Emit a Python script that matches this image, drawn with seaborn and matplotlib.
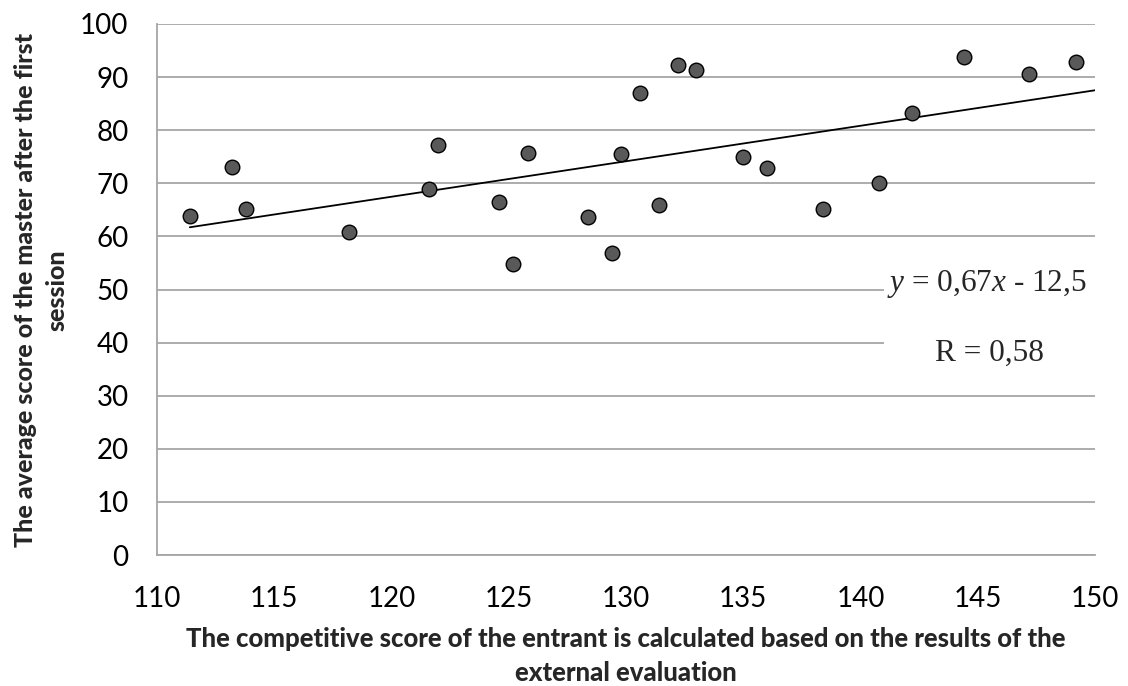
import numpy as np
import pandas as pd
import seaborn as sns
import matplotlib.pyplot as plt
from matplotlib.patches import Rectangle

# Data
competitive_score = [111.4, 113.2, 113.8, 118.2, 121.6, 122.0, 124.6, 125.2, 125.8,
                     128.4, 129.4, 129.8, 130.6, 131.4, 132.2, 133.0, 135.0, 136.0,
                     138.4, 140.8, 142.2, 144.4, 147.2, 149.2]
average_score = [63.8, 73.1, 65.2, 60.9, 68.9, 77.2, 66.5, 54.8, 75.7,
                 63.6, 56.9, 75.5, 87.0, 65.9, 92.2, 91.4, 75.0, 72.9,
                 65.2, 70.0, 83.3, 93.8, 90.6, 92.8]
x_ticks = [110, 115, 120, 125, 130, 135, 140, 145, 150]
y_ticks = [0, 10, 20, 30, 40, 50, 60, 70, 80, 90, 100]
equation_text = "$y$ = 0,67$x$ - 12,5"
r_text = "R = 0,58"
x_label = "The competitive score of the entrant is calculated based on the results of the\nexternal evaluation"
y_label = "The average score of the master after the first\nsession"

df = pd.DataFrame({"x": competitive_score, "y": average_score})

sns.set_style("white")
plt.rcParams["font.family"] = ["Lato", "DejaVu Sans"]
plt.rcParams["mathtext.fontset"] = "custom"
plt.rcParams["mathtext.rm"] = "Liberation Serif"
plt.rcParams["mathtext.it"] = "Liberation Serif:italic"

grid_c = "#A6A6A6"
fig = plt.figure(figsize=(11.28, 6.86), dpi=100)
ax = fig.add_axes([157 / 1128, 1 - 555 / 686, (1095 - 157) / 1128, (555 - 24) / 686])

ax.set_xlim(110, 150)
ax.set_ylim(0, 100)
ax.set_xticks(x_ticks)
ax.set_yticks(y_ticks)
ax.set_axisbelow(True)
ax.yaxis.grid(True, color=grid_c, linewidth=1.3)
ax.xaxis.grid(False)

# trend line (least squares) from min x to right edge
coef = np.polyfit(df["x"], df["y"], 1)
xl = np.array([df["x"].min(), 150])
sns.lineplot(x=xl, y=np.polyval(coef, xl), ax=ax, color="black", linewidth=1.3, zorder=2)

sns.scatterplot(data=df, x="x", y="y", ax=ax, s=110, color="#595959",
                edgecolor="black", linewidth=1.0, zorder=3)

# white box behind equation text
ax.add_patch(Rectangle((141.0, 34.5), 10, 22.5, facecolor="white", edgecolor="none", zorder=1))
ax.text(145.4, 51.1, equation_text, fontsize=22.5, family="Liberation Serif",
        ha="center", va="center", zorder=4)
ax.text(145.5, 38.0, r_text, fontsize=22.5, family="Liberation Serif",
        ha="center", va="center", zorder=4)

for s in ["top", "right"]:
    ax.spines[s].set_visible(False)
for s in ["left", "bottom"]:
    ax.spines[s].set_color(grid_c)
    ax.spines[s].set_linewidth(1.3)

ax.tick_params(axis="both", which="both", direction="out", length=7.5, width=1.3,
               color=grid_c, labelsize=20, labelcolor="black")
ax.tick_params(axis="x", pad=15)
ax.tick_params(axis="y", pad=13)

ax.set_xlabel(x_label, fontsize=18.5, fontweight="black", linespacing=1.5, va="center")
ax.xaxis.set_label_coords(626 / 1128, 1 - 656 / 686, transform=fig.transFigure)
ax.set_ylabel(y_label, fontsize=18.0, fontweight="black", linespacing=1.45, va="center")
ax.yaxis.set_label_coords(41 / 1128, 1 - 290 / 686, transform=fig.transFigure)

fig.savefig("out.png", dpi=100)
